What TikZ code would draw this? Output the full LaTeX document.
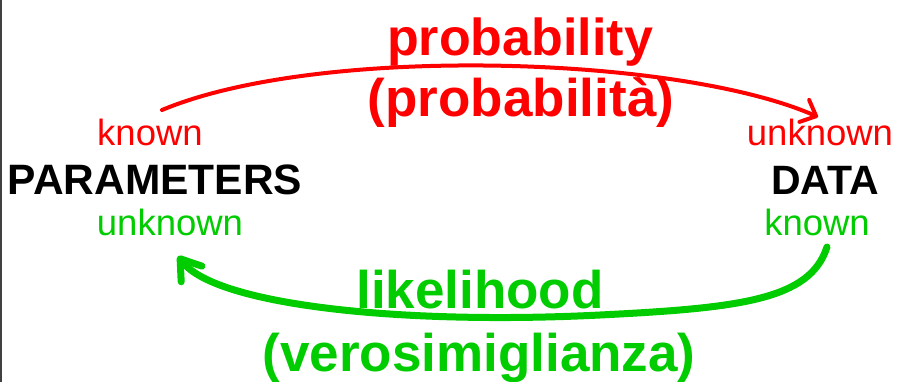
\documentclass[tikz,border=0pt]{standalone}
\usepackage{fontspec}
\setmainfont{Liberation Sans}
\usetikzlibrary{arrows.meta}
\definecolor{pred}{RGB}{255,0,0}
\definecolor{pgreen}{RGB}{0,204,0}
\tikzset{
  lbl/.style={inner sep=0pt, anchor=base},
  big/.style={lbl, font=\fontsize{53}{60}\selectfont\bfseries},
  mid/.style={lbl, font=\fontsize{41}{48}\selectfont\bfseries, text=black},
  small/.style={lbl, font=\fontsize{36.5}{42}\selectfont},
  redarrow/.style={draw=pred, line width=4pt, line cap=round,
    -{Straight Barb[length=13pt,width=24pt,round]}},
  greenarrow/.style={draw=pgreen, line width=7pt, line cap=round,
    -{Straight Barb[length=19pt,width=26pt,round]}}
}
\begin{document}
\begin{tikzpicture}[x=1pt,y=-1pt]
\useasboundingbox[fill=white] (0,0) rectangle (898,382);
\draw[line width=1.5pt, black!75] (1,0) -- (1,382);

\node[mid, font=\fontsize{42.5}{48}\selectfont\bfseries] (params) at (155,195) {PARAMETERS};
\node[mid] (data) at (825,195) {DATA};
\node[small, text=pred] (pknown) at (150,146) {known};
\node[small, text=pgreen] (punknown) at (170,236) {unknown};
\node[small, text=pred] (dunknown) at (820,146) {unknown};
\node[small, text=pgreen] (dknown) at (817,236) {known};

\node[big, text=pred, font=\fontsize{52}{60}\selectfont\bfseries] (prob) at (520,56) {probability};
\node[big, text=pred] (probit) at (521,117) {(probabilità)};
\node[big, text=pgreen] (lik) at (480,309) {likelihood};
\node[big, text=pgreen] (vero) at (479,372) {(verosimiglianza)};

\coordinate (rs) at (162,110);
\coordinate (re) at (818,117);
\coordinate (gs) at (827,247);
\coordinate (gm) at (600,315);
\coordinate (ge) at (178,256);

\draw[redarrow] (rs) .. controls (320,44) and (680,56) .. (re);
\draw[greenarrow] (gs) .. controls (810,300) and (740,308) .. (gm)
  .. controls (400,325) and (215,305) .. (ge);
\end{tikzpicture}
\end{document}
